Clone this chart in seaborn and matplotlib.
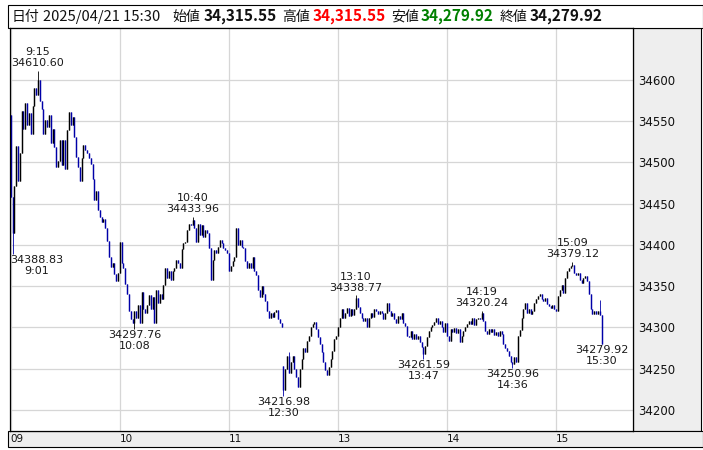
import numpy as np
import pandas as pd
import matplotlib
matplotlib.use('Agg')
import matplotlib.pyplot as plt
from matplotlib.patches import Rectangle
import seaborn as sns

sns.set_theme(style='white')
plt.rcParams['font.family'] = ['DejaVu Sans', 'Noto Sans CJK JP']

# 1分足 終値 (前場 9:00-11:29, 後場 12:30-15:24 + 15:30)
close_am = [34458, 34415, 34472, 34520, 34478, 34512, 34562, 34540, 34572, 34545,
            34560, 34535, 34568, 34590, 34582, 34600, 34575, 34565, 34535, 34551,
            34543, 34557, 34523, 34540, 34519, 34495, 34502, 34527, 34497, 34527,
            34492, 34539, 34561, 34546, 34555, 34531, 34507, 34494, 34478, 34505,
            34521, 34515, 34511, 34506, 34498, 34480, 34455, 34465, 34442, 34434,
            34428, 34432, 34421, 34405, 34385, 34373, 34378, 34365, 34356, 34366,
            34404, 34378, 34372, 34353, 34340, 34320, 34310, 34305, 34320, 34312,
            34327, 34305, 34343, 34322, 34318, 34327, 34339, 34322, 34337, 34306,
            34345, 34330, 34340, 34335, 34352, 34372, 34360, 34368, 34358, 34368,
            34372, 34382, 34378, 34372, 34395, 34402, 34404, 34418, 34426, 34424,
            34430, 34420, 34404, 34426, 34412, 34424, 34410, 34418, 34414, 34396,
            34358, 34382, 34394, 34390, 34398, 34406, 34402, 34396, 34394, 34390,
            34368, 34374, 34380, 34386, 34420, 34400, 34406, 34398, 34396, 34380,
            34372, 34378, 34372, 34386, 34368, 34364, 34346, 34337, 34350, 34340,
            34332, 34320, 34311, 34318, 34313, 34319, 34321, 34310, 34305, 34301]
close_pm = [34224, 34250, 34266, 34245, 34258, 34266, 34250, 34240, 34228, 34250,
            34262, 34275, 34270, 34283, 34290, 34300, 34304, 34307, 34298, 34288,
            34280, 34270, 34258, 34248, 34242, 34252, 34262, 34272, 34286, 34290,
            34300, 34312, 34322, 34312, 34318, 34323, 34314, 34322, 34315, 34322,
            34336, 34325, 34318, 34312, 34308, 34312, 34300, 34312, 34318, 34313,
            34322, 34320, 34316, 34320, 34318, 34310, 34318, 34330, 34320, 34314,
            34317, 34310, 34306, 34314, 34310, 34318, 34306, 34302, 34290, 34288,
            34296, 34286, 34292, 34286, 34290, 34282, 34276, 34268, 34278, 34288,
            34296, 34300, 34303, 34307, 34311, 34304, 34308, 34300, 34294, 34306,
            34290, 34284, 34298, 34294, 34299, 34293, 34298, 34282, 34290, 34296,
            34300, 34304, 34308, 34304, 34311, 34303, 34310, 34312, 34310, 34318,
            34308, 34296, 34292, 34298, 34294, 34298, 34291, 34295, 34290, 34296,
            34292, 34280, 34275, 34272, 34266, 34258, 34256, 34264, 34258, 34290,
            34297, 34312, 34322, 34330, 34318, 34322, 34316, 34320, 34330, 34335,
            34338, 34341, 34335, 34332, 34336, 34328, 34326, 34323, 34327, 34322,
            34320, 34338, 34345, 34352, 34342, 34360, 34368, 34372, 34374, 34376,
            34366, 34363, 34366, 34358, 34354, 34360, 34362, 34356, 34340, 34322,
            34316, 34320, 34316, 34320, 34315.55, 34279.92]
open_am_first = 34557.0
open_pm_first = 34253.0
wick_high = {15: 34610.60, 100: 34433.96, 153: 34270.0, 190: 34338.77,
             259: 34320.24, 309: 34379.12, 324: 34333.0}
wick_low = {1: 34388.83, 68: 34297.76, 150: 34216.98, 227: 34261.59, 276: 34250.96}

# 注記 (足番号, 時刻, 値, 高安)
mark_idx = [15, 1, 68, 100, 150, 190, 227, 259, 276, 309, 325]
mark_time = ['9:15', '9:01', '10:08', '10:40', '12:30', '13:10', '13:47',
             '14:19', '14:36', '15:09', '15:30']
mark_val = [34610.60, 34388.83, 34297.76, 34433.96, 34216.98, 34338.77,
            34261.59, 34320.24, 34250.96, 34379.12, 34279.92]
mark_kind = ['high', 'low', 'low', 'high', 'low', 'high', 'low', 'high', 'low', 'high', 'low']

hour_ticks = [0, 60, 120, 180, 240, 300]
hour_labels = ['09', '10', '11', '13', '14', '15']
price_ticks = [34200, 34250, 34300, 34350, 34400, 34450, 34500, 34550, 34600]

closes = close_am + close_pm
opens = []
for i, c in enumerate(closes):
    if i == 0:
        opens.append(open_am_first)
    elif i == len(close_am):
        opens.append(open_pm_first)
    else:
        opens.append(closes[i - 1])
highs = [wick_high.get(i, max(o, c)) for i, (o, c) in enumerate(zip(opens, closes))]
lows = [wick_low.get(i, min(o, c)) for i, (o, c) in enumerate(zip(opens, closes))]

df = pd.DataFrame({'idx': np.arange(len(closes)), 'open': opens, 'close': closes,
                   'high': highs, 'low': lows})
df['dir'] = np.where(df['close'] >= df['open'], 'up', 'down')

wick = pd.concat([df[['idx', 'dir']].assign(price=df['low']),
                  df[['idx', 'dir']].assign(price=df['high'])])
body = pd.concat([df[['idx', 'dir']].assign(price=df['open']),
                  df[['idx', 'dir']].assign(price=df['close'])])
pal = {'up': '#000000', 'down': '#0000a8'}

W, H = 703, 450
fig = plt.figure(figsize=(W / 100, H / 100), dpi=100)
fig.patch.set_facecolor('white')

# 背景パネル (軸より下に描く)
for (x0, y0, x1, y1, fc) in [(633, 28, 701, 431, '#eeeeee'),
                             (8, 431, 703, 447, '#eeeeee'),
                             (8, 5, 703, 28, 'white')]:
    fig.patches.append(Rectangle((x0 / W, 1 - y1 / H), (x1 - x0) / W, (y1 - y0) / H,
                                 transform=fig.transFigure, facecolor=fc,
                                 edgecolor='black', linewidth=0.8, zorder=-5))

ax = fig.add_axes([10 / W, 1 - 431 / H, 623 / W, 403 / H])
ax.set_facecolor('white')

sns.lineplot(data=wick, x='idx', y='price', units='idx', estimator=None, hue='dir',
             palette=pal, linewidth=0.6, legend=False, ax=ax, solid_capstyle='butt')
sns.lineplot(data=body, x='idx', y='price', units='idx', estimator=None, hue='dir',
             palette=pal, linewidth=1.05, legend=False, ax=ax, solid_capstyle='butt')

ax.set_xlim(-0.4, 342.3)
ax.set_ylim(34174.5, 34663)
ax.set_xticks(hour_ticks)
ax.set_xticklabels(hour_labels)
ax.set_yticks(price_ticks)
ax.set_yticklabels([str(p) for p in price_ticks])
ax.yaxis.tick_right()
ax.tick_params(axis='y', length=0, pad=3.6, labelsize=8.5, labelcolor='#111111')
ax.tick_params(axis='x', length=0, pad=2.5, labelsize=7.5, labelcolor='#111111')
for lab in ax.get_xticklabels():
    lab.set_ha('left')
ax.grid(True, color='#d6d6d6', linewidth=0.9)
ax.set_axisbelow(True)
ax.set_xlabel('')
ax.set_ylabel('')
for s in ax.spines.values():
    s.set_color('black')
    s.set_linewidth(0.9)

for idx, t, v, kind in zip(mark_idx, mark_time, mark_val, mark_kind):
    if kind == 'high':
        txt, va, dy = f'{t}\n{v:.2f}', 'bottom', 2
    else:
        txt, va, dy = f'{v:.2f}\n{t}', 'top', -0.5
    ha, dx = 'center', 0
    if idx == 1:
        ha, dx = 'left', -2
    ax.annotate(txt, xy=(idx, v), xytext=(dx, dy), textcoords='offset points',
                ha=ha, va=va, fontsize=8, color='#1a1a1a', multialignment='center',
                linespacing=1.15)

# ヘッダー
last = df.iloc[-1]
hdr = [('日付', 12, 'normal', '#111111', 10),
       ('2025/04/21 15:30', 43, 'normal', '#111111', 10.6),
       ('始値', 172, 'normal', '#111111', 10),
       (f"{last['open']:,.2f}", 204, 'bold', '#111111', 11),
       ('高値', 282, 'normal', '#111111', 10),
       (f"{last['open']:,.2f}", 313, 'bold', '#ff0000', 11),
       ('安値', 391, 'normal', '#111111', 10),
       (f"{last['close']:,.2f}", 421, 'bold', '#008000', 11),
       ('終値', 500, 'normal', '#111111', 10),
       (f"{last['close']:,.2f}", 530, 'bold', '#111111', 11)]
for s, x, w, col, fs in hdr:
    fig.text(x / W, 1 - 16.5 / H, s, ha='left', va='center', fontsize=fs, fontweight=w,
             color=col, family=['Noto Sans CJK JP', 'DejaVu Sans'])

fig.savefig('out.png', dpi=100)
